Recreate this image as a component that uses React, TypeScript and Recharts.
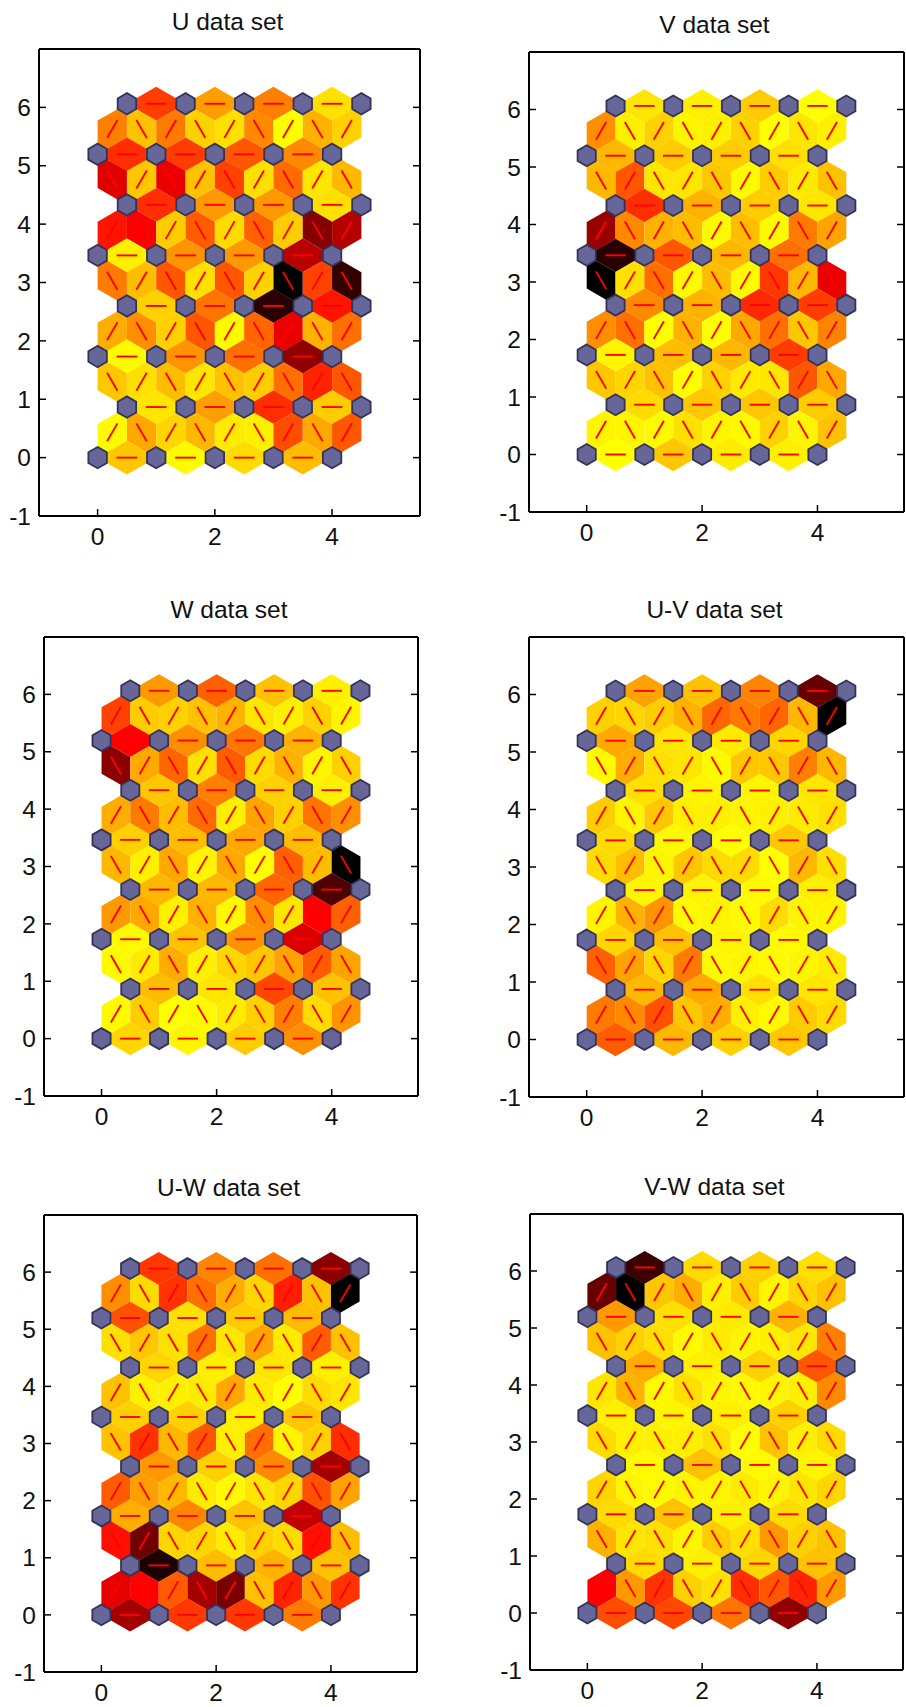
import { ScatterChart, Scatter, XAxis, YAxis } from 'recharts';

// neighbor distance heat per link, 0 = yellow, 50 = red, 100 = black
// rows go from the top of the map (y = 6.06) down to y = 0
const uSet = [
    [38, 19, 25, 6],
    [25, 12, 26, 9, 6, 23, 0, 15, 9],
    [41, 38, 33, 23],
    [56, 11, 54, 12, 37, 6, 29, 5, 14],
    [41, 20, 20, 6],
    [46, 51, 10, 32, 7, 31, 10, 74, 65],
    [3, 21, 20, 64],
    [26, 13, 33, 6, 33, 9, 100, 37, 90],
    [9, 27, 92, 46],
    [16, 22, 9, 33, 1, 30, 54, 15, 28],
    [1, 21, 28, 72],
    [11, 6, 13, 5, 12, 10, 28, 43, 33],
    [5, 19, 41, 10],
    [1, 17, 8, 14, 4, 3, 35, 17, 33],
    [11, 1, 7, 13],
];
const vSet = [
    [5, 3, 10, 0],
    [22, 3, 9, 2, 3, 9, 0, 5, 3],
    [14, 10, 10, 6],
    [14, 33, 5, 5, 11, 1, 10, 4, 12],
    [41, 15, 10, 5],
    [70, 23, 15, 13, 1, 13, 1, 26, 18],
    [92, 33, 14, 28],
    [100, 6, 28, 1, 13, 1, 39, 14, 54],
    [23, 15, 42, 38],
    [22, 28, 0, 15, 0, 17, 28, 11, 24],
    [2, 13, 14, 38],
    [11, 8, 12, 0, 9, 4, 5, 33, 17],
    [7, 11, 11, 10],
    [2, 2, 1, 6, 2, 1, 9, 2, 12],
    [0, 11, 4, 3],
];
const wSet = [
    [20, 31, 12, 3],
    [37, 10, 9, 12, 15, 5, 3, 9, 2],
    [50, 22, 27, 15],
    [73, 17, 30, 6, 32, 7, 15, 2, 9],
    [11, 25, 9, 3],
    [16, 26, 13, 29, 3, 18, 9, 27, 22],
    [9, 13, 17, 13],
    [14, 3, 17, 2, 17, 0, 31, 13, 100],
    [14, 14, 30, 85],
    [20, 17, 3, 15, 1, 22, 5, 50, 31],
    [1, 12, 21, 57],
    [1, 4, 16, 3, 8, 11, 18, 32, 18],
    [13, 5, 36, 12],
    [1, 10, 0, 1, 4, 9, 25, 7, 21],
    [8, 2, 10, 22],
];
const uvSet = [
    [18, 12, 24, 80],
    [9, 8, 10, 15, 30, 26, 30, 14, 100],
    [17, 5, 4, 8],
    [1, 16, 6, 5, 1, 11, 11, 25, 14],
    [6, 2, 2, 5],
    [10, 2, 11, 3, 3, 2, 3, 4, 6],
    [7, 1, 0, 11],
    [7, 13, 2, 11, 7, 7, 0, 14, 6],
    [2, 2, 1, 3],
    [2, 15, 21, 1, 2, 1, 7, 2, 2],
    [8, 12, 2, 1],
    [31, 18, 8, 26, 1, 2, 1, 2, 4],
    [14, 17, 6, 5],
    [26, 23, 34, 11, 16, 3, 1, 10, 7],
    [32, 14, 9, 11],
];
const uwSet = [
    [39, 24, 28, 73],
    [22, 7, 40, 28, 16, 8, 44, 12, 100],
    [34, 6, 10, 13],
    [6, 11, 6, 28, 5, 18, 4, 32, 12],
    [8, 3, 5, 3],
    [12, 3, 3, 4, 17, 4, 0, 7, 5],
    [9, 9, 3, 11],
    [12, 40, 14, 33, 3, 28, 2, 9, 41],
    [20, 9, 23, 68],
    [32, 19, 14, 4, 1, 5, 8, 34, 18],
    [16, 24, 12, 62],
    [47, 78, 8, 8, 4, 9, 7, 47, 13],
    [94, 13, 15, 12],
    [55, 50, 32, 68, 76, 12, 43, 20, 40],
    [68, 39, 39, 26],
];
const vwSet = [
    [88, 7, 9, 6],
    [80, 100, 11, 16, 3, 10, 2, 8, 12],
    [20, 6, 4, 15],
    [12, 9, 6, 1, 4, 2, 3, 5, 25],
    [16, 3, 9, 33],
    [5, 15, 1, 6, 2, 1, 2, 3, 23],
    [3, 2, 3, 9],
    [7, 3, 3, 3, 6, 0, 12, 3, 7],
    [1, 12, 1, 2],
    [8, 2, 1, 2, 2, 4, 2, 5, 8],
    [7, 12, 3, 7],
    [15, 5, 6, 2, 10, 6, 20, 9, 12],
    [7, 3, 8, 12],
    [50, 20, 40, 9, 6, 41, 33, 43, 20],
    [35, 36, 27, 72],
];

const xTicks = [0, 2, 4];
const yTicks = [-1, 0, 1, 2, 3, 4, 5, 6];
const X_DOMAIN = [-1, 5.5];
const Y_DOMAIN = [-1, 7];
const ROW_STEP = Math.sqrt(3) / 2;
const FONT = '"Liberation Sans", Arial, sans-serif';
const TOP_PAD = 48;

// frame rectangles of the six axes, in page pixels
const panels = [
    { title: 'U data set', values: uSet, left: 39, right: 420, top: 49, bottom: 516 },
    { title: 'V data set', values: vSet, left: 529, right: 904, top: 52, bottom: 512 },
    { title: 'W data set', values: wSet, left: 44, right: 418, top: 637, bottom: 1096 },
    { title: 'U-V data set', values: uvSet, left: 529, right: 904, top: 637, bottom: 1097 },
    { title: 'U-W data set', values: uwSet, left: 44, right: 417, top: 1215, bottom: 1672 },
    { title: 'V-W data set', values: vwSet, left: 530, right: 903, top: 1214, bottom: 1670 },
];

const heatColor = (v: number) => {
    if (v <= 50) {
        return `rgb(255,${Math.round(255 * (1 - v / 50))},0)`;
    }
    return `rgb(${Math.round(255 * (1 - (v - 50) / 50))},0,0)`;
};

// map grid: 5 x 8 neurons on a hexagonal layout
const nodes: { x: number; y: number }[] = [];
for (let r = 0; r < 8; r++) {
    for (let c = 0; c < 5; c++) {
        nodes.push({ x: c + (r % 2 ? 0.5 : 0), y: r * ROW_STEP });
    }
}

const buildLinks = (values: number[][]) =>
    values.flatMap((row, i) => {
        const level = values.length - 1 - i;
        return row.map((v, j) => {
            if (level % 2 === 0) {
                const start = (level / 2) % 2 ? 1 : 0.5;
                return { x: start + j, y: (level / 2) * ROW_STEP, v, dir: 0 };
            }
            const rising = ((level - 1) / 2 + j) % 2 === 0;
            return { x: 0.25 + j * 0.5, y: (level * ROW_STEP) / 2, v, dir: rising ? 1 : -1 };
        });
    });

// rhombus between two neurons, with the link drawn as a short red stroke
const LinkShape = ({ cx, cy, payload, unit }: any) => {
    const { dir, v } = payload;
    // half link vector and offset to the triangle centroid, in map units
    const hx = dir === 0 ? 0.5 : 0.25;
    const hy = dir === 0 ? 0 : dir * 0.433;
    const ox = dir === 0 ? 0 : -0.25;
    const oy = dir === 0 ? 0.2887 : dir * 0.1443;
    const pts = [
        [hx, hy],
        [-ox, -oy],
        [-hx, -hy],
        [ox, oy],
    ]
        .map(([a, b]) => `${cx + a * unit},${cy - b * unit}`)
        .join(' ');
    const k = 0.354;
    return (
        <g>
            <polygon points={pts} fill={heatColor(v)} stroke="none" />
            <line
                x1={cx - hx * k * unit}
                y1={cy + hy * k * unit}
                x2={cx + hx * k * unit}
                y2={cy - hy * k * unit}
                stroke="#ff0000"
                strokeWidth={1.9}
            />
        </g>
    );
};

const NodeShape = ({ cx, cy, unit }: any) => {
    const r = 0.182 * unit;
    const w = r * 0.866;
    const pts = [
        [0, -r],
        [w, -r / 2],
        [w, r / 2],
        [0, r],
        [-w, r / 2],
        [-w, -r / 2],
    ]
        .map(([a, b]) => `${cx + a},${cy + b}`)
        .join(' ');
    return <polygon points={pts} fill="#666699" stroke="#333359" strokeWidth={1.8} />;
};

const Panel = ({ title, values, left, right, top, bottom }: any) => {
    const plotW = right - left;
    const plotH = bottom - top;
    const unit = plotW / (X_DOMAIN[1] - X_DOMAIN[0]);
    const tickStyle = { fontSize: 24.5, fill: '#111', fontFamily: FONT };
    const axisLine = { stroke: '#000', strokeWidth: 2 };
    const tickLine = { stroke: '#000', strokeWidth: 1.5 };
    return (
        <div style={{ position: 'absolute', left: left - 40, top: top - TOP_PAD }}>
            <ScatterChart
                width={plotW + 42}
                height={plotH + TOP_PAD + 50}
                margin={{ top: 0, right: 0, bottom: 0, left: 0 }}
            >
                <XAxis
                    xAxisId="main"
                    type="number"
                    dataKey="x"
                    domain={X_DOMAIN}
                    ticks={xTicks}
                    interval={0}
                    height={50}
                    allowDataOverflow
                    axisLine={axisLine}
                    tickLine={tickLine}
                    tickSize={-7}
                    tickMargin={19}
                    tick={tickStyle}
                />
                <XAxis
                    xAxisId="top"
                    orientation="top"
                    type="number"
                    domain={X_DOMAIN}
                    ticks={xTicks}
                    interval={0}
                    height={TOP_PAD}
                    allowDataOverflow
                    axisLine={axisLine}
                    tickLine={tickLine}
                    tickSize={-7}
                    tickFormatter={() => ''}
                />
                <YAxis
                    yAxisId="main"
                    type="number"
                    dataKey="y"
                    domain={Y_DOMAIN}
                    ticks={yTicks}
                    interval={0}
                    width={40}
                    allowDataOverflow
                    axisLine={axisLine}
                    tickLine={tickLine}
                    tickSize={-7}
                    tickMargin={15}
                    tick={tickStyle}
                />
                <YAxis
                    yAxisId="right"
                    orientation="right"
                    type="number"
                    domain={Y_DOMAIN}
                    ticks={yTicks}
                    interval={0}
                    width={2}
                    allowDataOverflow
                    axisLine={axisLine}
                    tickLine={tickLine}
                    tickSize={-7}
                    tickFormatter={() => ''}
                />
                <Scatter
                    xAxisId="main"
                    yAxisId="main"
                    data={buildLinks(values)}
                    isAnimationActive={false}
                    shape={(props: any) => <LinkShape {...props} unit={unit} />}
                />
                <Scatter
                    xAxisId="main"
                    yAxisId="main"
                    data={nodes}
                    isAnimationActive={false}
                    shape={(props: any) => <NodeShape {...props} unit={unit} />}
                />
                <text
                    x={40 + plotW / 2 - 2}
                    y={TOP_PAD - 19}
                    textAnchor="middle"
                    fontSize={24.5}
                    fontFamily={FONT}
                    fill="#111"
                >
                    {title}
                </text>
            </ScatterChart>
        </div>
    );
}; 

export default function App() {
    return (
        <div style={{ position: 'absolute', left: 0, top: 0, width: 906, height: 1707, background: '#fff' }}>
            {panels.map((p) => (
                <Panel key={p.title} {...p} />
            ))}
        </div>
    );
}
